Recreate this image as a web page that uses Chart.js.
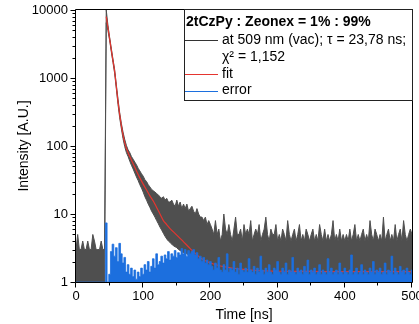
<!DOCTYPE html>
<html><head><meta charset="utf-8">
<script src="https://cdn.jsdelivr.net/npm/chart.js@4/dist/chart.umd.min.js"></script>
<style>html,body{margin:0;padding:0;background:#fff;overflow:hidden}canvas{display:block}</style>
</head><body>
<canvas id="c" width="419" height="324"></canvas>
<script>
// time channels [ns]
const timeNs = [
0,2.5,5,7.5,10,12.5,15,17.5,20,22.5,25,27.5,30,32.5,35,37.5,40,42.5,45,47.5,
50,52.5,55,57.5,60,62.5,65,67.5,70,72.5,75,77.5,80,82.5,85,87.5,90,92.5,95,97.5,
100,102.5,105,107.5,110,112.5,115,117.5,120,122.5,125,127.5,130,132.5,135,137.5,140,142.5,145,147.5,
150,152.5,155,157.5,160,162.5,165,167.5,170,172.5,175,177.5,180,182.5,185,187.5,190,192.5,195,197.5,
200,202.5,205,207.5,210,212.5,215,217.5,220,222.5,225,227.5,230,232.5,235,237.5,240,242.5,245,247.5,
250,252.5,255,257.5,260,262.5,265,267.5,270,272.5,275,277.5,280,282.5,285,287.5,290,292.5,295,297.5,
300,302.5,305,307.5,310,312.5,315,317.5,320,322.5,325,327.5,330,332.5,335,337.5,340,342.5,345,347.5,
350,352.5,355,357.5,360,362.5,365,367.5,370,372.5,375,377.5,380,382.5,385,387.5,390,392.5,395,397.5,
400,402.5,405,407.5,410,412.5,415,417.5,420,422.5,425,427.5,430,432.5,435,437.5,440,442.5,445,447.5,
450,452.5,455,457.5,460,462.5,465,467.5,470,472.5,475,477.5,480,482.5,485,487.5,490,492.5,495,497.5,
500];
// measured decay: upper and lower edge of the noisy trace
const dataHigh = [
3,5,3,3,4,3,3,4,3,3,5,4,3,3,3,4,3,3,10000,6000,
4000,2750,1900,1330,800,490,310,215,160,125,102,88,80,70,64,58,53,47,43,39,
36,32,30,27,25,23,22,21,20,19,18,17,18,16,17,15,15,16,14,13,
16,13,15,12,14,12,14,11,12,13,11,10,12,10,9,9,8,9,7,8,
7,6,5,8,5,6,4,5,10,6,5,7,5,4,6,9,5,5,6,4,
7,5,6,5,8,4,5,6,5,7,4,5,6,9,5,4,6,5,5,7,
4,5,4,6,5,4,8,5,4,5,6,4,5,7,4,5,4,6,5,4,
5,6,4,5,4,7,5,4,6,4,5,4,5,8,4,5,4,6,4,5,
4,5,4,6,4,5,7,4,5,4,5,6,4,5,4,8,5,4,6,5,
4,5,4,9,4,5,6,4,5,4,7,4,5,6,4,8,5,4,5,6,
5];
const dataLow = [
1,1,1,1,1,1,1,1,1,1,1,1,1,1,1,1,1,1,6500,5000,
3600,2450,1700,1170,700,410,260,180,128,98,80,70,60,52,46,40,35,31,27,24,
21,18,16,14,12.5,11,10,9,8,7.2,6.4,5.8,5.2,4.7,4.3,4,3.8,3.6,3.4,3.3,
3.2,3,2.9,2.8,2.7,2.6,2.6,2.5,2.4,2.2,2,1.8,1.5,1.2,1,1,1,1,1,1,
1,1,1,1,1,1,1,1,1,1,1,1,1,1,1,1,1,1,1,1,
1,1,1,1,1,1,1,1,1,1,1,1,1,1,1,1,1,1,1,1,
1,1,1,1,1,1,1,1,1,1,1,1,1,1,1,1,1,1,1,1,
1,1,1,1,1,1,1,1,1,1,1,1,1,1,1,1,1,1,1,1,
1,1,1,1,1,1,1,1,1,1,1,1,1,1,1,1,1,1,1,1,
1,1,1,1,1,1,1,1,1,1,1,1,1,1,1,1,1,1,1,1,
1];
// residual error trace
const errorVals = [
1,1,1,1,1,1,1,1,1,1,1,1,1,1,1,1,1,1,7.4,1,
1.3,2.8,3.6,2.4,3.2,2.0,3.7,2.6,1.9,2.3,1.4,1.8,1.3,1.6,1.2,1.5,1.1,1.4,1.2,1.6,
1.3,1.8,1.5,2.0,1.4,1.7,2.2,1.6,2.6,1.8,2.0,2.4,1.9,2.5,2.2,2.8,2.1,2.6,2.4,2.9,
2.3,2.7,2.5,3.1,2.6,3.0,2.4,2.9,2.6,2.8,3.0,2.5,2.7,2.2,2.4,2.0,2.3,1.9,2.1,1.8,
2.0,1.7,1.5,1.9,1.6,2.3,1.5,1.4,1.8,1.5,2.6,1.4,1.6,1.5,2.0,1.4,1.6,1.3,1.9,1.5,
1.4,1.6,1.4,2.2,1.5,1.4,1.7,1.3,1.6,1.4,2.4,1.5,1.3,1.6,1.4,1.8,1.4,1.3,1.6,1.5,
2.0,1.4,1.3,1.6,1.4,1.9,1.3,1.5,1.4,2.3,1.4,1.3,1.6,1.4,1.5,1.3,1.7,1.4,2.1,1.3,
1.5,1.4,1.6,1.3,1.4,1.8,1.3,1.5,1.4,1.3,2.2,1.4,1.6,1.3,1.4,1.5,1.3,1.9,1.4,1.3,
1.6,1.4,1.3,1.5,2.5,1.3,1.4,1.6,1.3,1.4,1.8,1.3,1.5,1.4,1.3,1.6,1.4,2.0,1.3,1.5,
1.4,1.6,1.3,1.4,1.9,1.3,1.5,1.4,2.4,1.3,1.6,1.4,1.3,1.7,1.4,1.5,1.3,1.6,1.4,1.3,
1.5];
// fitted decay curve
const fitT = [45,47.5,50,52.5,55,57.5,60,62.5,65,67.5,70,72.5,75,77.5,80,85,90,95,100,105,110,115,120,125,130,135,140,150,160,170,180,190,200,215,230,245,260,280,300,350,400,450,500];
const fitY = [8000,5500,3800,2600,1800,1250,750,450,290,200,145,112,92,80,70,55,43,34,27.5,22.5,18.5,15.5,12.5,10,8,7,6.1,4.9,3.9,3.1,2.5,2.1,1.9,1.72,1.62,1.55,1.5,1.46,1.44,1.43,1.42,1.42,1.42];
const yTicks = [1,10,100,1000,10000];
const xTicks = [0,100,200,300,400,500];

const legendTitle = '2tCzPy : Zeonex = 1% : 99%';
const legendRows = ['at 509 nm (vac); \u03C4 = 23,78 ns;', '\u03C7\u00B2 = 1,152', 'fit', 'error'];

const GRAY = '#4f4f4f', RED = '#e5352f', BLUE = '#1c6fde';
const FONT = '"Liberation Sans", Arial, sans-serif';

const pts = (xs, ys) => xs.map((x, i) => ({x, y: ys[i]}));

const framePlugin = {
  id: 'frame',
  afterDatasetsDraw(chart) {
    const {ctx, chartArea: a, scales: {x, y}} = chart;
    ctx.save();
    ctx.strokeStyle = '#000';
    ctx.lineWidth = 1;
    ctx.beginPath();
    ctx.rect(a.left - 0.5, a.top - 0.5, a.right - a.left + 1, a.bottom - a.top + 1);
    ctx.stroke();
    ctx.beginPath();
    for (let e = 0; e < 4; e++) {
      for (let m = 1; m <= 9; m++) {
        const v = m * Math.pow(10, e);
        const py = Math.round(y.getPixelForValue(v)) + 0.5;
        const len = m === 1 ? 5 : 3;
        ctx.moveTo(a.left - 0.5, py); ctx.lineTo(a.left - 0.5 - len, py);
      }
    }
    const pt = Math.round(y.getPixelForValue(10000)) + 0.5;
    ctx.moveTo(a.left - 0.5, pt); ctx.lineTo(a.left - 5.5, pt);
    for (let v = 0; v <= 500; v += 50) {
      const px = Math.round(x.getPixelForValue(v)) - 0.5;
      const len = v % 100 === 0 ? 5 : 3;
      ctx.moveTo(px, a.bottom + 0.5); ctx.lineTo(px, a.bottom + 0.5 + len);
    }
    ctx.stroke();
    ctx.restore();
  },
  afterDraw(chart) {
    const {ctx, chartArea: a} = chart;
    ctx.save();
    const bx = 184.5, by = a.top - 0.5, bw = a.right + 0.5 - bx, bh = 91;
    ctx.fillStyle = '#fff';
    ctx.fillRect(bx, by, bw, bh);
    ctx.strokeStyle = '#222';
    ctx.lineWidth = 1;
    ctx.strokeRect(bx, by, bw, bh);
    ctx.fillStyle = '#000';
    ctx.textBaseline = 'middle';
    ctx.textAlign = 'left';
    ctx.font = 'bold 14px ' + FONT;
    ctx.fillText(legendTitle, 186, 22);
    ctx.font = '14px ' + FONT;
    const rowY = [40, 57, 74, 90.5];
    const cols = ['#333', null, RED, BLUE];
    legendRows.forEach((t, i) => {
      ctx.fillStyle = '#000';
      ctx.fillText(t, 222, rowY[i]);
      if (cols[i]) {
        ctx.strokeStyle = cols[i];
        ctx.beginPath();
        ctx.moveTo(185, Math.round(rowY[i]) + 0.5);
        ctx.lineTo(218, Math.round(rowY[i]) + 0.5);
        ctx.stroke();
      }
    });
    ctx.restore();
  }
};

new Chart(document.getElementById('c'), {
  type: 'line',
  data: {
    datasets: [
      { label: 'error', data: pts(timeNs, errorVals), borderColor: BLUE, backgroundColor: BLUE,
        borderWidth: 0.8, pointRadius: 0, stepped: 'middle', fill: 'start' },
      { label: 'fit', data: pts(fitT, fitY), borderColor: RED, borderWidth: 1.2, pointRadius: 0,
        cubicInterpolationMode: 'monotone', fill: false },
      { label: 'at 509 nm', data: pts(timeNs, dataHigh), borderColor: GRAY, backgroundColor: GRAY,
        borderWidth: 1, pointRadius: 0, fill: '+1' },
      { label: 'low', data: pts(timeNs, dataLow), borderColor: GRAY, borderWidth: 1, pointRadius: 0, fill: false }
    ]
  },
  options: {
    responsive: false,
    animation: false,
    devicePixelRatio: 1,
    layout: { padding: { left: 0, top: 10, right: 7, bottom: 0 } },
    plugins: { legend: { display: false }, tooltip: { enabled: false } },
    scales: {
      x: {
        type: 'linear', min: 0, max: 500,
        grid: { display: true, drawOnChartArea: false, drawTicks: true, tickLength: 5, tickColor: 'rgba(0,0,0,0)' },
        border: { display: false },
        ticks: { color: '#000', font: { family: FONT, size: 13 }, padding: 2, maxRotation: 0, autoSkip: false },
        afterBuildTicks: s => { s.ticks = xTicks.map(v => ({value: v})); },
        title: { display: true, text: 'Time [ns]', color: '#000', font: { family: FONT, size: 14 }, padding: { top: 0, bottom: 0 } },
        afterFit: s => { s.height = 42; s.paddingLeft = 0; s.paddingRight = 0; }
      },
      y: {
        type: 'logarithmic', min: 1, max: 10000,
        grid: { display: true, drawOnChartArea: false, drawTicks: true, tickLength: 5, tickColor: 'rgba(0,0,0,0)' },
        border: { display: false },
        ticks: { color: '#000', font: { family: FONT, size: 13 }, padding: 3, callback: v => String(v) },
        afterBuildTicks: s => { s.ticks = yTicks.map(v => ({value: v})); },
        title: { display: true, text: 'Intensity [A.U.]', color: '#000', font: { family: FONT, size: 14 }, padding: { top: 16, bottom: 0 } },
        afterFit: s => { s.width = 76; s.paddingTop = 0; s.paddingBottom = 0; }
      }
    }
  },
  plugins: [framePlugin]
});
</script>
</body></html>
